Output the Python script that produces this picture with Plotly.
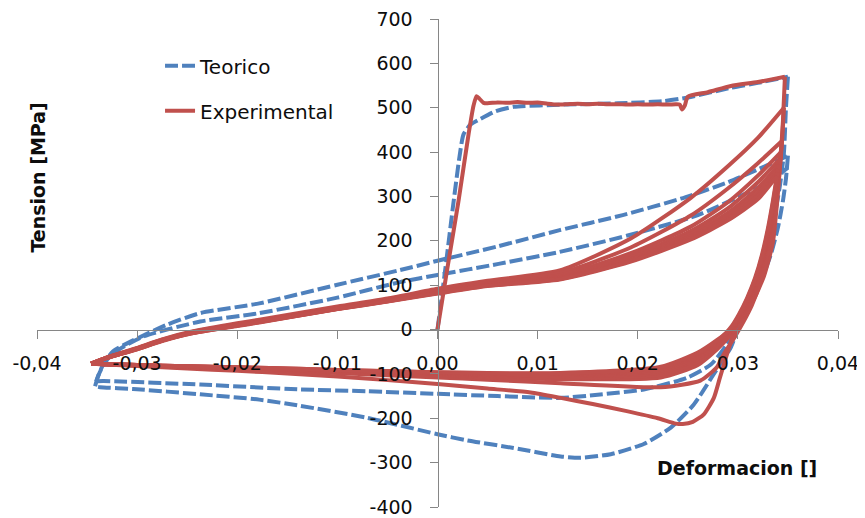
import plotly.graph_objects as go

# ---------------- Teorico (theoretical model), branch by branch ----------------
teo_load_strain = [0.0, 0.0008, 0.0016, 0.0022, 0.0026, 0.0033, 0.0043, 0.0058, 0.0076, 0.0126, 0.018, 0.0226, 0.025, 0.0293, 0.032, 0.035]
teo_load_stress = [0, 140, 287, 390, 440, 462, 475, 492, 502, 507, 510, 515, 523, 545, 556, 570]

teo_unload1_strain = [0.035, 0.0348, 0.0346, 0.0342, 0.0336, 0.0326, 0.0313, 0.0303, 0.0293, 0.0276, 0.0256, 0.0233, 0.0206, 0.0173, 0.0143, 0.0123, 0.0076, 0.003, 0.0, -0.007, -0.0137, -0.0178, -0.0237, -0.0304, -0.0337, -0.0342]
teo_unload1_stress = [570, 500, 399, 325, 249, 159, 63, 20, -40, -100, -169, -221, -258, -281, -289, -286, -267, -250, -236, -199, -172, -158, -146, -134, -130, -128]

teo_reload1_strain = [-0.0342, -0.0339, -0.0333, -0.0324, -0.0309, -0.027, -0.0237, -0.0178, -0.01, -0.00375, 0.0, 0.0061, 0.0122, 0.0185, 0.0243, 0.029, 0.0329, 0.035]
teo_reload1_stress = [-128, -105, -75, -49, -30, 11, 37, 59, 101, 134, 155, 188, 224, 258, 295, 332, 370, 392]

teo_unload2_strain = [0.035, 0.0348, 0.0345, 0.034, 0.0333, 0.0324, 0.0313, 0.0302, 0.0289, 0.0273, 0.0249, 0.0206, 0.016, 0.0123, 0.006, 0.0, -0.007, -0.0137, -0.0237, -0.0334, -0.0341]
teo_unload2_stress = [392, 340, 290, 230, 170, 115, 62, 18, -34, -79, -109, -135, -147, -154, -150, -145, -139, -135, -124, -116, -117]

teo_reload2_strain = [-0.0341, -0.0337, -0.0329, -0.0316, -0.0293, -0.0237, -0.0178, -0.01, -0.00375, 0.0, 0.0061, 0.0122, 0.019, 0.026, 0.033, 0.035]
teo_reload2_stress = [-117, -95, -65, -42, -15, 18, 37, 72, 107, 123, 148, 175, 212, 258, 332, 365]

# ---------------- Experimental ----------------
exp_load_strain = [0.0, 0.001, 0.0021, 0.0031, 0.0036, 0.0039, 0.0042, 0.0046, 0.005, 0.006, 0.007, 0.008, 0.009, 0.01, 0.011, 0.012, 0.013, 0.014, 0.015, 0.016, 0.017, 0.018, 0.019, 0.02, 0.021, 0.022, 0.023, 0.0238, 0.0242, 0.0244, 0.0247, 0.025, 0.027, 0.0293, 0.032, 0.0347]
exp_load_stress = [0, 140, 290, 440, 505, 526, 520, 511, 510, 512, 511, 513, 511, 512, 509, 507, 508, 509, 508, 509, 508, 508, 507, 508, 507, 508, 507, 508, 507, 496, 505, 525, 535, 549, 558, 570]

exp_unload1_strain = [0.0347, 0.0345, 0.0343, 0.034, 0.0335, 0.0326, 0.0315, 0.0306, 0.0299, 0.0293, 0.0288, 0.0282, 0.0276, 0.0266, 0.0255, 0.0245, 0.0238, 0.022, 0.0189, 0.0155, 0.0123, 0.0093, 0.005, 0.0, -0.005, -0.01, -0.015, -0.02, -0.025, -0.03, -0.0346]
exp_unload1_stress = [570, 470, 400, 309, 197, 120, 65, 38, 18, -27, -64, -109, -154, -191, -208, -213, -212, -200, -184, -168, -154, -142, -133, -123, -114, -106, -99, -93, -88, -82, -77]

# reload branches of cycles 2..9 (shared strain grid, then each cycle's peak)
exp_reload_strain = [-0.0346, -0.033, -0.0301, -0.0275, -0.0244, -0.02, -0.0178, -0.01, -0.005, 0.0, 0.005, 0.0122, 0.0193, 0.0253, 0.029, 0.032]
exp_reload_stress = [
    [-77, -63, -42, -22, -4, 14, 22, 52, 70, 92, 110, 133, 205, 297, 368, 432],
    [-77, -63, -43, -23, -5, 12, 20, 50, 68, 89, 106, 127, 185, 257, 318, 375],
    [-77, -63, -43, -24, -6, 11, 19, 49, 67, 87, 104, 122, 172, 232, 287, 347],
    [-77, -64, -44, -24, -6, 10, 18, 48, 66, 85, 102, 119, 166, 222, 273, 332],
    [-77, -64, -44, -25, -7, 10, 18, 47, 65, 84, 101, 117, 162, 215, 263, 319],
    [-77, -64, -44, -25, -7, 9, 17, 47, 64, 83, 100, 115, 158, 210, 256, 309],
    [-77, -64, -45, -25, -8, 9, 17, 46, 64, 82, 99, 114, 155, 206, 250, 301],
    [-77, -64, -45, -26, -8, 8, 16, 46, 63, 81, 98, 113, 153, 203, 246, 294],
]
exp_peak_strain = [0.0346, 0.0344, 0.0343, 0.0342, 0.0341, 0.034, 0.034, 0.0339]
exp_peak_stress = [500, 425, 400, 385, 372, 362, 354, 346]

# unloading branches of cycles 2..9: descent from the peak, then the lower band
exp_descent_strain = [
    [0.0344, 0.0341, 0.0337, 0.0331, 0.0323, 0.0314, 0.0305, 0.0296, 0.0286, 0.0279, 0.02625],
    [0.0341, 0.0337, 0.0332, 0.0325, 0.0317, 0.0308, 0.0299, 0.0289, 0.0279, 0.026],
    [0.034, 0.0336, 0.033, 0.0323, 0.0315, 0.0306, 0.0297, 0.0288, 0.0279, 0.026],
    [0.0339, 0.0334, 0.0328, 0.0321, 0.0313, 0.0305, 0.0296, 0.0288, 0.0279, 0.026],
    [0.0338, 0.0333, 0.0327, 0.032, 0.0312, 0.0304, 0.0296, 0.0288, 0.0279, 0.026],
    [0.0337, 0.0332, 0.0326, 0.0319, 0.0311, 0.0303, 0.0295, 0.0288, 0.0279, 0.026],
    [0.0336, 0.0331, 0.0325, 0.0318, 0.031, 0.0302, 0.0295, 0.0288, 0.0279, 0.026],
    [0.0335, 0.033, 0.0324, 0.0317, 0.0309, 0.0301, 0.0294, 0.0288, 0.0279, 0.026],
]
exp_descent_stress = [
    [420, 340, 260, 185, 110, 55, 15, -20, -55, -85, -115],
    [360, 290, 220, 150, 90, 42, 8, -22, -45, -80],
    [340, 275, 205, 140, 85, 40, 8, -18, -38, -72],
    [325, 258, 190, 130, 80, 38, 8, -15, -34, -66],
    [315, 250, 185, 127, 78, 37, 8, -13, -31, -62],
    [305, 240, 178, 122, 75, 36, 8, -11, -28, -58],
    [298, 233, 172, 118, 72, 35, 8, -9, -26, -55],
    [290, 228, 168, 115, 70, 34, 8, -8, -24, -52],
]
exp_lower_strain = [0.0223, 0.0123, 0.005, 0.0, -0.01, -0.0178, -0.025, -0.03, -0.0346]
exp_lower_stress = [
    [-130, -121, -113, -108, -98, -91, -86, -81, -77],
    [-108, -112, -108, -104, -96, -89, -85, -81, -77],
    [-102, -108, -105, -102, -95, -88, -84, -80, -77],
    [-97, -105, -103, -100, -94, -88, -84, -80, -77],
    [-93, -103, -101, -99, -93, -87, -83, -80, -77],
    [-89, -101, -100, -98, -92, -87, -83, -80, -77],
    [-86, -99, -99, -97, -91, -86, -83, -80, -77],
    [-84, -98, -98, -96, -91, -86, -83, -80, -77],
]

x_ticks = [-0.04, -0.03, -0.02, -0.01, 0.0, 0.01, 0.02, 0.03, 0.04]
x_tick_labels = ["-0,04", "-0,03", "-0,02", "-0,01", "0,00", "0,01", "0,02", "0,03", "0,04"]
y_ticks = [-400, -300, -200, -100, 0, 100, 200, 300, 400, 500, 600, 700]
y_tick_labels = ["-400", "-300", "-200", "-100", "0", "100", "200", "300", "400", "500", "600", "700"]

# ---------- assemble branches ----------
teo_branches = [
    (teo_load_strain, teo_load_stress),
    (teo_unload1_strain, teo_unload1_stress),
    (teo_reload1_strain, teo_reload1_stress),
    (teo_unload2_strain, teo_unload2_stress),
    (teo_reload2_strain, teo_reload2_stress),
]
exp_branches = [
    (exp_load_strain, exp_load_stress),
    (exp_unload1_strain, exp_unload1_stress),
]
for i in range(len(exp_peak_stress)):
    exp_branches.append((exp_reload_strain + [exp_peak_strain[i]],
                         exp_reload_stress[i] + [exp_peak_stress[i]]))
    exp_branches.append(([exp_peak_strain[i]] + exp_descent_strain[i] + exp_lower_strain,
                         [exp_peak_stress[i]] + exp_descent_stress[i] + exp_lower_stress[i]))

BLUE = "#4F81BD"
RED = "#C0504D"
AXIS = "#868686"
TXT = "#0d0d0d"
FONT = "DejaVu Sans"

fig = go.Figure()
for k, (bx, by) in enumerate(teo_branches):
    fig.add_trace(go.Scatter(x=bx, y=by, mode="lines", name="Teorico", legendgroup="t",
                             showlegend=(k == 0),
                             line=dict(color=BLUE, width=4, dash="13px,4px", shape="spline", smoothing=0.6)))
for k, (bx, by) in enumerate(exp_branches):
    fig.add_trace(go.Scatter(x=bx, y=by, mode="lines", name="Experimental", legendgroup="e",
                             showlegend=(k == 0),
                             line=dict(color=RED, width=4, shape="spline", smoothing=0.6)))

y_min, y_max = -400, 700
x_min, x_max = -0.04, 0.04

fig.update_layout(
    width=857, height=510,
    margin=dict(l=29, r=27, t=11, b=11),
    paper_bgcolor="white", plot_bgcolor="white",
    font=dict(family=FONT, size=19, color=TXT),
    showlegend=True,
    legend=dict(x=0.1536, y=0.944, xanchor="left", yanchor="top",
                font=dict(family=FONT, size=20, color=TXT),
                bgcolor="rgba(0,0,0,0)", tracegroupgap=16, traceorder="grouped"),
    xaxis=dict(range=[x_min, x_max], tickvals=x_ticks, ticktext=x_tick_labels,
               showgrid=False, zeroline=False, showline=True, linecolor=AXIS, linewidth=1,
               ticks="outside", ticklen=8, tickcolor=AXIS, tickwidth=1, automargin=False,
               ticklabeloverflow="allow",
               anchor="free", position=(0 - y_min) / (y_max - y_min),
               ticklabelstandoff=9, tickfont=dict(family=FONT, size=19, color=TXT)),
    yaxis=dict(range=[y_min, y_max], tickvals=y_ticks, ticktext=y_tick_labels,
               showgrid=False, zeroline=False, showline=True, linecolor=AXIS, linewidth=1,
               ticks="outside", ticklen=8, tickcolor=AXIS, tickwidth=1, automargin=False,
               ticklabeloverflow="allow",
               anchor="free", position=(0 - x_min) / (x_max - x_min),
               ticklabelstandoff=13, tickfont=dict(family=FONT, size=19, color=TXT)),
    annotations=[
        dict(text="<b>Tension [MPa]</b>", textangle=-90, xref="paper", yref="paper",
             x=0.00125, y=0.675, xanchor="center", yanchor="middle", showarrow=False,
             font=dict(family=FONT, size=19, color=TXT)),
        dict(text="<b>Deformacion []</b>", xref="paper", yref="paper",
             x=0.8733, y=0.0795, xanchor="center", yanchor="middle", showarrow=False,
             font=dict(family=FONT, size=19, color=TXT)),
    ],
)

fig.write_html("out.html")
